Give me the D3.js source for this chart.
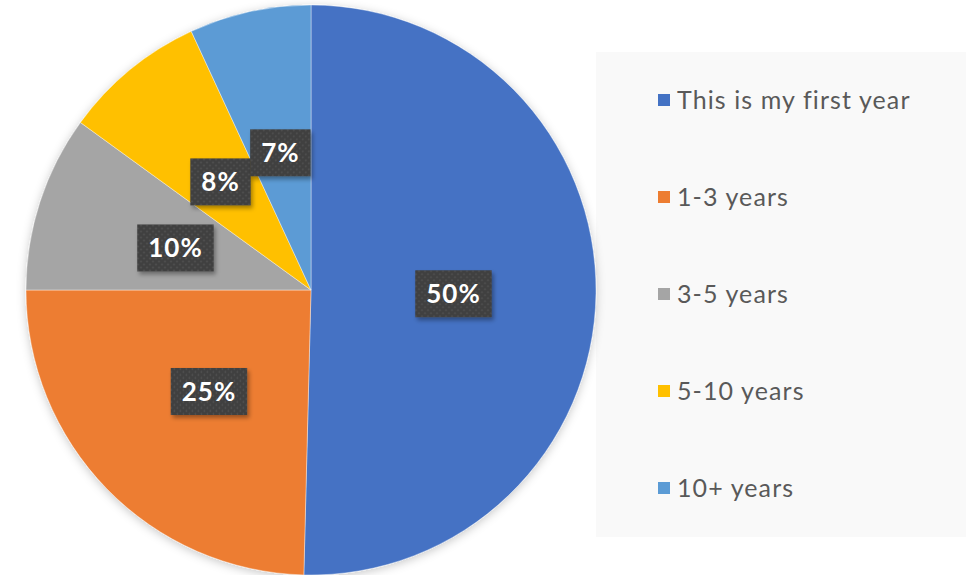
<!DOCTYPE html>
<html><head><meta charset="utf-8">
<script src="https://cdn.jsdelivr.net/npm/d3@7"></script>
<style>body{margin:0;background:#fff}svg{display:block}</style>
</head><body>
<script>
const categories = ["This is my first year","1-3 years","3-5 years","5-10 years","10+ years"];
const values = [50.4, 24.6, 10.0, 8.1, 6.9];
const labels = ["50%","25%","10%","8%","7%"];
const colors = ["#4472c4","#ed7d31","#a5a5a5","#ffc000","#5b9bd5"];

const W = 975, H = 575;
const svg = d3.select("body").append("svg").attr("width", W).attr("height", H);
const defs = svg.append("defs");
const sh = defs.append("filter").attr("id","sh").attr("x","-20%").attr("y","-20%").attr("width","140%").attr("height","140%");
sh.append("feDropShadow").attr("dx",0).attr("dy",2).attr("stdDeviation",5).attr("flood-color","#000").attr("flood-opacity",0.22);
const bsh = defs.append("filter").attr("id","bsh").attr("x","-20%").attr("y","-20%").attr("width","150%").attr("height","150%");
bsh.append("feDropShadow").attr("dx",2).attr("dy",3).attr("stdDeviation",2).attr("flood-color","#000").attr("flood-opacity",0.35);
const pat = defs.append("pattern").attr("id","dots").attr("patternUnits","userSpaceOnUse").attr("width",6).attr("height",6);
pat.append("rect").attr("width",6).attr("height",6).attr("fill","#3f3f3f");
pat.append("circle").attr("cx",1.5).attr("cy",1.5).attr("r",0.9).attr("fill","#555");
pat.append("circle").attr("cx",4.5).attr("cy",4.5).attr("r",0.9).attr("fill","#555");

// legend box
svg.append("rect").attr("x",596).attr("y",52).attr("width",370).attr("height",485).attr("fill","#f9f9f9");

const cx = 311, cy = 290, r = 285;
const pie = d3.pie().sort(null).value(d => d)(values);
const g = svg.append("g").attr("transform",`translate(${cx},${cy})`);
const pg = g.append("g").attr("filter","url(#sh)");
pg.selectAll("path").data(pie).join("path")
  .attr("d", d3.arc().innerRadius(0).outerRadius(r))
  .attr("fill",(d,i)=>colors[i]).attr("stroke","#fff").attr("stroke-width",0.4);

const labArc = d3.arc().innerRadius(r*0.5).outerRadius(r*0.5);
const lg = g.selectAll("g.lab").data(pie).join("g").attr("class","lab")
  .attr("transform", d => { const c = labArc.centroid(d); return `translate(${c[0]},${c[1]+2})`; });
lg.each(function(d,i){
  const s = d3.select(this);
  const t = s.append("text").text(labels[i]).attr("fill","#fff").attr("font-family","Lato, 'Open Sans', sans-serif")
    .attr("font-weight","bold").attr("font-size",26).attr("letter-spacing",1).attr("text-anchor","middle").attr("dy","0.35em");
  const bb = t.node().getBBox();
  const w = bb.width + 22, h = 47;
  s.insert("rect","text").attr("x",-w/2).attr("y",-h/2).attr("width",w).attr("height",h).attr("fill","url(#dots)").attr("filter","url(#bsh)");
});

const leg = svg.append("g");
const ly = d3.scalePoint().domain(categories).range([100, 488]);
categories.forEach((c,i)=>{
  const y = ly(c);
  leg.append("rect").attr("x",658).attr("y",y-6).attr("width",12).attr("height",12).attr("fill",colors[i]);
  leg.append("text").attr("x",677).attr("y",y).attr("dy","0.35em").text(c)
    .attr("font-family","Lato, 'Open Sans', sans-serif").attr("font-size",25).attr("letter-spacing",1.1).attr("fill","#595959");
});
</script>
</body></html>
